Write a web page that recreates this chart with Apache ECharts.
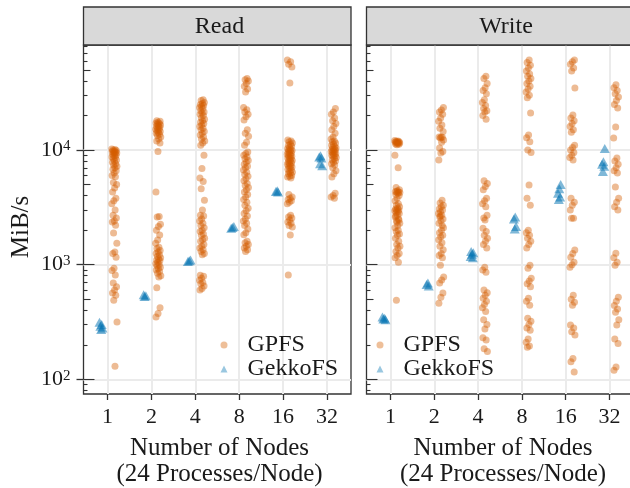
<!DOCTYPE html>
<html><head><meta charset="utf-8">
<script src="https://cdn.jsdelivr.net/npm/echarts@6/dist/echarts.min.js"></script>
<style>html,body{margin:0;padding:0;background:#fff}#chart{width:630px;height:488px}</style>
</head><body><div id="chart"></div>
<script>
// ---------------- data ----------------
const categories = ['1', '2', '4', '8', '16', '32'];
const panelTitles = ['Read', 'Write'];
const seriesNames = ['GPFS', 'GekkoFS'];

const readGPFS = [
  [10200, 10100, 10000, 9900, 9800, 9700, 9600, 9500, 9400, 9300, 9200, 9000, 8900, 8700, 8600, 8400, 8200, 8000, 7800, 7600, 7400, 7200, 7000, 6800, 6600, 6300, 6000, 5850, 5200, 5000, 4650, 4300, 3800, 3600, 3400, 3000, 2700, 2550, 2400, 2350, 2210, 1890, 1540, 1290, 1250, 1160, 930, 890, 811, 690, 640, 600, 565, 540, 490, 316, 130],
  [18000, 17800, 17500, 17200, 17000, 16800, 16500, 16200, 16000, 15700, 15500, 15200, 15000, 14700, 14500, 14200, 14000, 13700, 13400, 13000, 12500, 12000, 11500, 9700, 4300, 2630, 2600, 2250, 2150, 2000, 1810, 1640, 1540, 1420, 1380, 1330, 1290, 1250, 1220, 1180, 1150, 1120, 1100, 1080, 1050, 1020, 1000, 980, 950, 920, 900, 870, 840, 800, 780, 630, 420, 375, 350],
  [27500, 27000, 26000, 25500, 25000, 24500, 24000, 23500, 23000, 22000, 21500, 21000, 20500, 20000, 19000, 18500, 18000, 17500, 17000, 16500, 16000, 15500, 15000, 14500, 14000, 13500, 13000, 12500, 12000, 11500, 11000, 9000, 6900, 5700, 5300, 4600, 3650, 3000, 2700, 2650, 2500, 2400, 2300, 2200, 2100, 2000, 1950, 1850, 1800, 1700, 1650, 1600, 1500, 1450, 1400, 1350, 1300, 1250, 1220, 810, 790, 760, 730, 700, 680, 650, 620, 600],
  [42000, 41000, 40000, 38000, 36000, 34000, 32000, 23500, 22500, 21500, 20500, 19500, 18300, 15000, 14000, 13200, 11700, 11000, 9600, 9300, 9000, 8700, 8400, 8100, 7800, 7500, 7200, 7000, 6700, 6400, 6100, 5900, 5600, 5400, 5100, 4900, 4700, 4500, 4300, 4100, 3900, 3700, 3500, 3300, 3100, 2950, 2800, 2650, 2500, 2400, 2300, 2200, 2050, 1900, 1820, 1600, 1550, 1500, 1450, 1400, 1350, 1300],
  [61000, 59000, 56000, 53000, 38500, 12200, 12000, 11800, 11500, 11200, 11000, 10800, 10500, 10300, 10100, 10000, 9900, 9800, 9600, 9400, 9300, 9200, 9000, 8900, 8800, 8600, 8500, 8400, 8200, 8100, 8000, 7800, 7700, 7600, 7500, 7300, 7200, 7100, 7000, 6800, 6700, 6500, 6400, 6300, 6200, 6000, 5900, 5800, 5700, 4100, 3900, 3800, 3700, 3600, 3500, 3400, 2700, 2600, 2550, 2450, 2350, 2300, 2200, 2130, 1810, 811],
  [23000, 21500, 20500, 19000, 18000, 17000, 16000, 15000, 14000, 13000, 12500, 12000, 11800, 11500, 11200, 11000, 10700, 10500, 10400, 10200, 10100, 10000, 9800, 9700, 9600, 9400, 9300, 9200, 9000, 8900, 8800, 8600, 8400, 8200, 8000, 7800, 7600, 7400, 7000, 6600, 6200, 5800, 4200, 4000, 3900, 3800]
];
const readGekko = [
  [315, 300, 290, 280, 272],
  [545, 535, 528],
  [1100, 1080, 1065],
  [2150, 2110, 2080],
  [4420, 4350, 4300],
  [8900, 8700, 8500, 7600, 7300]
];
const writeGPFS = [
  [12100, 12000, 11900, 11800, 11800, 11700, 11600, 11600, 11500, 11400, 11300, 11200, 11100, 9000, 7000, 4700, 4500, 4400, 4350, 4300, 4300, 4250, 4200, 4100, 4000, 3800, 3600, 3400, 3300, 3200, 3100, 3050, 3000, 3000, 2950, 2900, 2850, 2800, 2700, 2600, 2500, 2400, 2300, 2200, 2650, 2450, 2350, 2100, 2000, 1950, 1850, 1800, 1700, 1600, 1500, 1450, 1400, 1300, 1250, 1200, 1150, 1050, 490],
  [23500, 22300, 21500, 20500, 19000, 17800, 16500, 15500, 14500, 13000, 13000, 12900, 12700, 12200, 11700, 10400, 9700, 9400, 8180, 3650, 3450, 3300, 3200, 3050, 3000, 2900, 2800, 2700, 2600, 2500, 2400, 2300, 2200, 2650, 2100, 2000, 1900, 1800, 1750, 1650, 1550, 1450, 1350, 1250, 1200, 1150, 990, 780, 733, 690, 565, 520, 460],
  [44000, 42000, 38000, 35000, 33000, 31000, 27500, 26000, 24500, 23000, 22000, 21500, 20000, 18500, 5400, 5100, 4800, 4500, 3800, 3600, 3400, 3200, 2550, 2700, 2450, 2080, 1950, 1800, 1700, 1600, 1500, 1400, 950, 900, 860, 600, 570, 540, 510, 480, 450, 420, 390, 330, 300, 275, 230, 220, 185, 175],
  [61000, 58000, 55000, 52000, 49000, 46000, 44000, 42000, 40000, 38000, 36000, 34000, 32000, 30000, 28500, 21000, 13500, 12800, 11800, 10000, 9500, 4940, 3800, 3300, 2000, 1900, 1800, 1700, 1600, 1500, 1400, 990, 930, 760, 720, 680, 640, 510, 480, 443, 340, 320, 300, 280, 268, 225, 210, 195, 190],
  [61000, 59000, 56000, 52000, 49000, 34800, 20200, 19000, 18000, 17000, 16000, 15000, 14300, 11000, 10500, 10000, 9500, 9000, 8600, 8200, 3800, 3500, 3300, 3000, 2540, 2540, 1340, 1250, 1160, 1050, 1000, 950, 540, 500, 470, 443, 297, 280, 260, 243, 152, 142, 116],
  [37000, 35000, 33000, 31000, 29000, 27000, 25000, 23300, 15900, 12700, 8500, 8000, 7500, 7000, 6600, 6300, 4760, 3800, 3500, 3200, 3000, 1260, 1150, 1050, 990, 520, 480, 440, 410, 385, 330, 297, 225, 205, 128, 120]
];
const writeGekko = [
  [350, 340, 335, 330],
  [690, 670, 650],
  [1300, 1270, 1230, 1180, 1150],
  [2600, 2500, 2150, 2050],
  [5000, 4600, 4200, 3900, 3700],
  [10300, 7900, 7500, 7200, 6500]
];

// axis range and log-tick marks
const yMin = 74.4, yMax = 82400;
const yMajorTicks = [100, 1000, 10000];
const yMidTicks = [500, 5000, 50000];
const yMinorTicks = [80, 90, 200, 300, 400, 600, 700, 800, 900, 2000, 3000, 4000, 6000, 7000, 8000, 9000, 20000, 30000, 40000, 60000, 70000, 80000];

// ---------------- styling ----------------
const FONT = '"Liberation Serif", "Times New Roman", serif';
const TXT = '#1a1a1a';
const FRAME = '#333333';
const GRIDC = '#EBEBEB';
const ORANGE = '#D55E00';
const BLUE = '#0072B2';
const panels = [{left: 83.5, width: 267.5, titleX: 219.5, xTitleX: 219.5, legendX: 220.5},
                {left: 366.5, width: 267, titleX: 506, xTitleX: 503, legendX: 376.5}];
const PTOP = 45, PH = 349;

// dodge + small deterministic jitter of the x position within a category
function placePoints(groups, dodge, width) {
  const out = [];
  let k = 0;
  groups.forEach((vals, ci) => vals.forEach(v => {
    const f = ((k++ * 0.6180339887) % 1) - 0.5;
    out.push([ci + dodge + f * 2 * width, v]);
  }));
  return out;
}

const catIdx = categories.map((_, i) => i);
const lmin = Math.log10(yMin), lmax = Math.log10(yMax);

const grids = panels.map(p => ({
  left: p.left, top: PTOP, width: p.width, height: PH,
  show: true, borderColor: FRAME, borderWidth: 1.3, backgroundColor: 'transparent',
  containLabel: false, outerBoundsMode: 'none'
}));

const xAxes = panels.map((p, i) => ({
  type: 'value', gridIndex: i, min: -0.55, max: categories.length - 1 + 0.55,
  axisLine: {show: false},
  axisTick: {show: true, customValues: catIdx, length: 6, lineStyle: {color: FRAME, width: 1.3}},
  axisLabel: {customValues: catIdx, formatter: v => categories[Math.round(v)], margin: 12,
              fontFamily: FONT, fontSize: 22, color: TXT},
  splitLine: {show: true, lineStyle: {color: GRIDC, width: 2}}
}));

const yAxes = [];
const logAxisIndex = [];
panels.forEach((p, g) => {
  logAxisIndex.push(yAxes.length);
  yAxes.push({type: 'log', logBase: 10, gridIndex: g, min: yMin, max: yMax, show: false});
  yAxes.push({
    type: 'value', gridIndex: g, min: lmin, max: lmax, position: 'left',
    axisLine: {show: false},
    axisTick: {show: true, inside: false, length: g === 0 ? 7 : 0, customValues: yMajorTicks.map(Math.log10),
               lineStyle: {color: FRAME, width: 1.3}},
    axisLabel: {show: g === 0, customValues: yMajorTicks.map(Math.log10), margin: 13,
                formatter: v => '{b|10}{s|' + Math.round(v) + '}',
                rich: {b: {fontFamily: FONT, fontSize: 22, color: TXT},
                       s: {fontFamily: FONT, fontSize: 15, color: TXT, verticalAlign: 'top'}}},
    splitLine: {show: true, lineStyle: {color: GRIDC, width: 2}}
  });
  [[yMajorTicks, 11], [yMidTicks, 7], [yMinorTicks, 4]].forEach(([vals, len]) => {
    yAxes.push({
      type: 'value', gridIndex: g, min: lmin, max: lmax, position: 'left',
      axisLine: {show: false}, axisLabel: {show: false}, splitLine: {show: false},
      axisTick: {show: true, inside: true, length: len, customValues: vals.map(Math.log10),
                 lineStyle: {color: FRAME, width: 1.1}}
    });
  });
});

function gpfsSeries(groups, g) {
  return {
    name: seriesNames[0], type: 'scatter', xAxisIndex: g, yAxisIndex: logAxisIndex[g],
    data: placePoints(groups, 0.155, 0.06), symbol: 'circle', symbolSize: 7,
    itemStyle: {color: ORANGE, opacity: 0.42}, emphasis: {disabled: true}, z: 3
  };
}
function gekkoSeries(groups, g) {
  return {
    name: seriesNames[1], type: 'scatter', xAxisIndex: g, yAxisIndex: logAxisIndex[g],
    data: placePoints(groups, -0.145, 0.04), symbol: 'triangle', symbolSize: [10, 9],
    itemStyle: {color: BLUE, opacity: 0.5}, emphasis: {disabled: true}, z: 4
  };
}

const legends = panels.map(p => ({
  left: p.legendX, top: 333, orient: 'vertical', itemWidth: 7, itemHeight: 7, itemGap: 0, padding: 0,
  selectedMode: false, symbolKeepAspect: true,
  textStyle: {fontFamily: FONT, fontSize: 24, color: TXT, lineHeight: 22, padding: [0, 0, 0, 15]},
  data: [
    {name: seriesNames[0], icon: 'circle', itemStyle: {color: 'rgba(213,94,0,0.4)', opacity: 1}},
    {name: seriesNames[1], icon: 'triangle', itemStyle: {color: 'rgba(0,114,178,0.4)', opacity: 1}}
  ]
}));

const graphics = [];
panels.forEach((p, i) => {
  graphics.push({type: 'rect', z: 10, shape: {x: p.left, y: 7, width: i === 0 ? p.width : p.width + 20, height: 38},
                 style: {fill: '#D9D9D9', stroke: FRAME, lineWidth: 1.3}});
  graphics.push({type: 'text', z: 11, x: p.titleX, y: 27,
                 style: {text: panelTitles[i], fontFamily: FONT, fontSize: 24, fill: TXT, align: 'center', verticalAlign: 'middle'}});
  graphics.push({type: 'text', z: 11, x: p.xTitleX, y: 461,
                 style: {text: 'Number of Nodes\n(24 Processes/Node)', fontFamily: FONT, fontSize: 25, lineHeight: 26,
                         fill: TXT, align: 'center', verticalAlign: 'middle'}});
});
graphics.push({type: 'text', z: 11, x: 21, y: 227, rotation: Math.PI / 2,
               style: {text: 'MiB/s', fontFamily: FONT, fontSize: 25, fill: TXT, align: 'center', verticalAlign: 'middle'}});

const chart = echarts.init(document.getElementById('chart'), null, {renderer: 'canvas'});
chart.setOption({
  animation: false,
  backgroundColor: '#ffffff',
  grid: grids,
  xAxis: xAxes,
  yAxis: yAxes,
  legend: legends,
  graphic: graphics,
  series: [
    gpfsSeries(readGPFS, 0), gekkoSeries(readGekko, 0),
    gpfsSeries(writeGPFS, 1), gekkoSeries(writeGekko, 1)
  ]
});
</script>
</body></html>
